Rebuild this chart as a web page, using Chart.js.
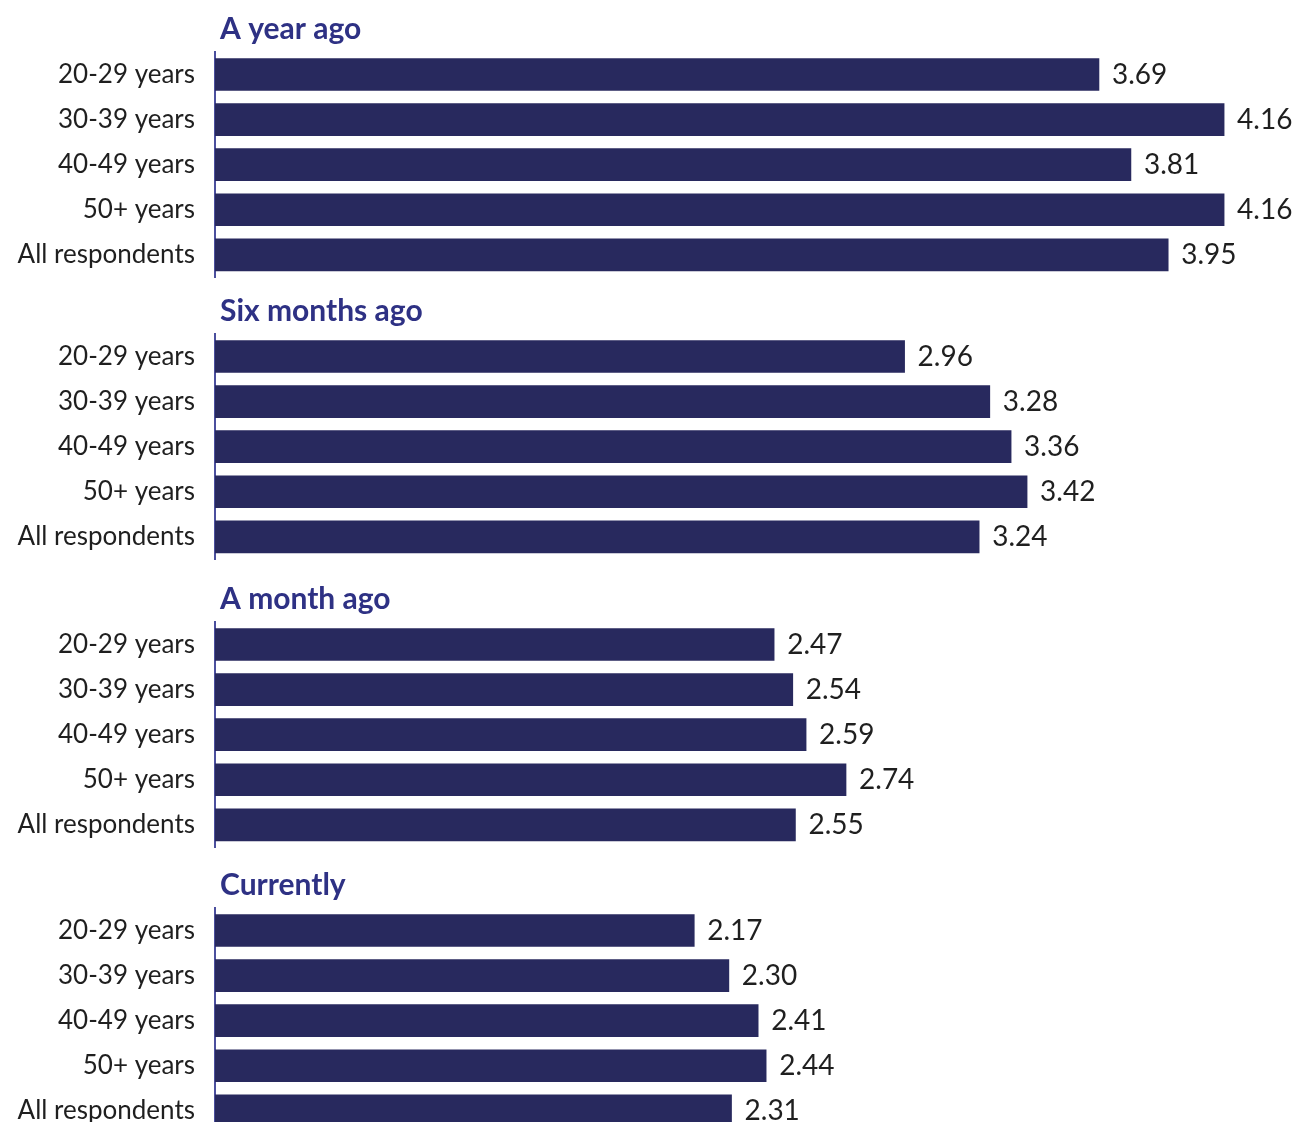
<!DOCTYPE html>
<html>
<head>
<meta charset="utf-8">
<script src="https://cdn.jsdelivr.net/npm/chart.js@4.4.1/dist/chart.umd.min.js"></script>
<style>
    html, body { margin: 0; padding: 0; background: #ffffff; overflow: hidden; }
    .panel { position: absolute; left: 0; width: 1296px; height: 311px; }
</style>
</head>
<body>
<div class="panel" style="top: 2px"><canvas id="chart0"></canvas></div>
<div class="panel" style="top: 284px"><canvas id="chart1"></canvas></div>
<div class="panel" style="top: 572px"><canvas id="chart2"></canvas></div>
<div class="panel" style="top: 858px"><canvas id="chart3"></canvas></div>
<script>
const groupTitles = ["A year ago", "Six months ago", "A month ago", "Currently"];
const ageGroups = ["20-29 years", "30-39 years", "40-49 years", "50+ years", "All respondents"];
const yearAgo = [3.69, 4.16, 3.81, 4.16, 3.95];
const sixMonthsAgo = [2.96, 3.28, 3.36, 3.42, 3.24];
const monthAgo = [2.47, 2.54, 2.59, 2.74, 2.55];
const currently = [2.17, 2.30, 2.41, 2.44, 2.31];

const barColor = "#28295e";
const titleColor = "#2e3184";
const textColor = "#1f1f1f";
const fontFamily = "Lato, 'Liberation Sans', sans-serif";

// writes the value just past the end of each bar
const valueLabels = {
    id: "valueLabels",
    afterLayout(chart) {
        // nudge the group title a little right of the axis line
        if (chart.titleBlock) chart.titleBlock.left += 5;
    },
    afterDatasetsDraw(chart) {
        const ctx = chart.ctx;
        const meta = chart.getDatasetMeta(0);
        const values = chart.data.datasets[0].data;
        ctx.save();
        ctx.font = "28px " + fontFamily;
        ctx.fillStyle = textColor;
        ctx.textAlign = "left";
        ctx.textBaseline = "middle";
        meta.data.forEach(function (bar, i) {
            ctx.fillText(values[i].toFixed(2), bar.x + 13, bar.y);
        });
        ctx.restore();
    }
};

function groupChart(id, title, values) {
    let ctx = document.getElementById(id).getContext("2d");
    new Chart(ctx, {
        type: "bar",
        plugins: [valueLabels],
        data: {
            labels: ageGroups,
            datasets: [{
                data: values,
                backgroundColor: barColor,
                barThickness: 32,
                borderWidth: 0
            }]
        },
        options: {
            indexAxis: "y",
            responsive: true,
            maintainAspectRatio: false,
            animation: false,
            plugins: {
                legend: { display: false },
                tooltip: { enabled: false },
                title: {
                    display: true,
                    text: title,
                    align: "start",
                    fullSize: false,
                    color: titleColor,
                    font: { family: fontFamily, size: 30, weight: "bold", lineHeight: 1.2 },
                    padding: { top: 9.7, bottom: 4.3 }
                }
            },
            scales: {
                x: {
                    display: false,
                    min: 0.37,
                    max: 4.43
                },
                y: {
                    afterFit: function (scale) { scale.width = 215; },
                    grid: { display: false, drawTicks: false },
                    border: { display: true, color: "#4b4f9e", width: 2 },
                    ticks: {
                        color: textColor,
                        padding: 20,
                        font: { family: fontFamily, size: 26 }
                    }
                }
            }
        }
    });
}

document.addEventListener("DOMContentLoaded", function () {
    groupChart("chart0", groupTitles[0], yearAgo);
    groupChart("chart1", groupTitles[1], sixMonthsAgo);
    groupChart("chart2", groupTitles[2], monthAgo);
    groupChart("chart3", groupTitles[3], currently);
});
</script>
</body>
</html>
